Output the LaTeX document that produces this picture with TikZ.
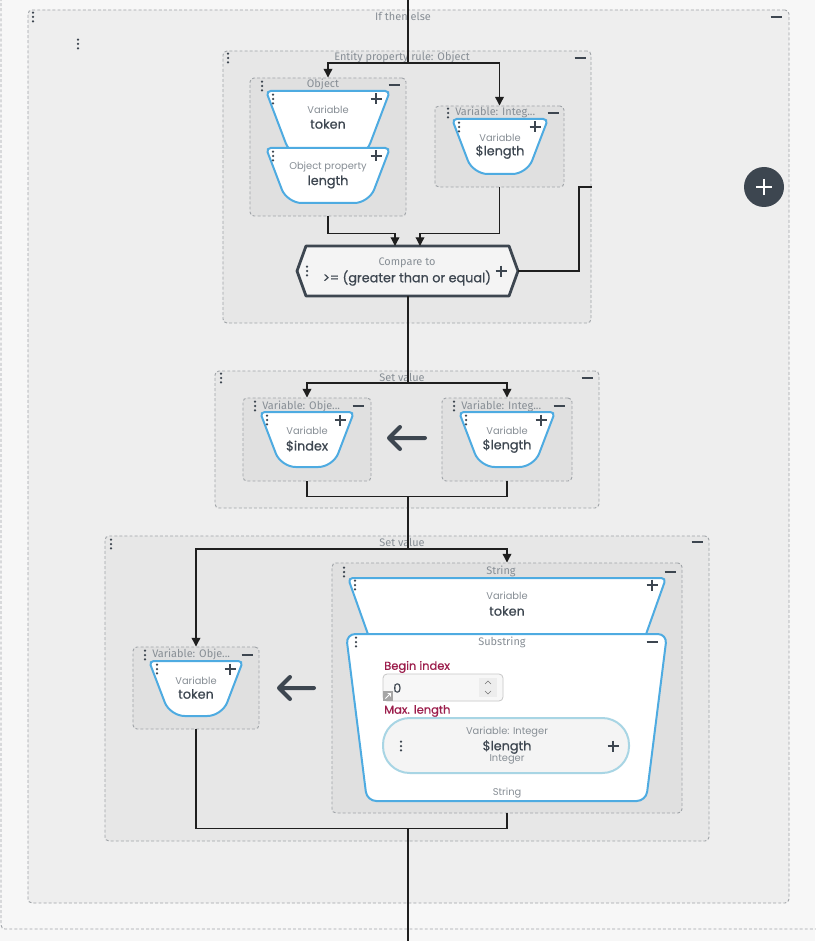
\documentclass[tikz,border=0pt]{standalone}
\usepackage{fontspec}
\setmainfont{Poppins}
\newfontfamily\hdrfont{Fira Sans}
\newfontfamily\valfont[FakeBold=0.7]{Poppins}
\usetikzlibrary{arrows.meta,fit}
\definecolor{bgc}{HTML}{F7F7F7}
\definecolor{ifc}{HTML}{EEEEEE}
\definecolor{boxa}{HTML}{E7E7E7}
\definecolor{boxb}{HTML}{E0E0E0}
\definecolor{dashc}{HTML}{A0A4A8}
\definecolor{dark}{HTML}{3D4650}
\definecolor{greyt}{HTML}{878E95}
\definecolor{bluec}{HTML}{4EABE1}
\definecolor{crim}{HTML}{9C1E4C}
\definecolor{pillb}{HTML}{A8D5E4}
\definecolor{cmpf}{HTML}{F4F4F4}
\tikzset{
  dbox/.style={draw=dashc, dash pattern=on 2.2pt off 1.6pt, line width=0.7pt, rounded corners=3pt, inner sep=0pt},
  conn/.style={draw=black!88, line width=0.95pt},
  arr/.style={conn, -{Triangle[length=6.5pt,width=6.5pt]}},
  hdr/.style={font=\hdrfont\fontsize{8.2}{9}\selectfont, text=greyt, inner sep=0pt},
  lbl/.style={font=\fontsize{7.4}{8}\selectfont, text=greyt, inner sep=0pt},
  val/.style={font=\valfont\fontsize{9.6}{10}\selectfont, text=dark, inner sep=0pt},
  crl/.style={font=\valfont\fontsize{8.6}{9}\selectfont, text=crim, inner sep=0pt, anchor=west},
  kdots/.pic={\fill[dark] (0,-4.3) circle[radius=1.25] (0,0) circle[radius=1.25] (0,4.3) circle[radius=1.25];},
  kplus/.pic={\draw[dark, line width=1.3pt] (-5.5,0) -- (5.5,0) (0,-5.5) -- (0,5.5);},
  kminus/.pic={\draw[dark, line width=1.6pt] (-5.5,0) -- (5.5,0);},
  trap/.style={draw=bluec, line width=1.5pt, fill=white},
}
% cx, top, halftop, height, inset
\newcommand\ktrap[5]{%
  \path[trap] ({#1-#3+#5/2},{#2+#4/2}) [rounded corners=3.5pt] -- ({#1-#3},{#2}) -- ({#1+#3},{#2}) -- ({#1+#3-#5/2},{#2+#4/2})
   [rounded corners=11pt] -- ({#1+#3-#5},{#2+#4}) -- ({#1-#3+#5},{#2+#4}) -- cycle;}
\begin{document}
\begin{tikzpicture}[x=0.75pt,y=-0.75pt]
\useasboundingbox (0,0) rectangle (815,941);
\fill[bgc] (0,0) rectangle (815,941);
% outer
\node[dbox, fit={(1,-20)(840,929)}] (outer) {};
% if then else
\node[dbox, fill=ifc, fit={(28,10)(789,903)}] (ite) {};
\node[hdr] (itet) at (403,16) {If then else};
\pic at (33,17) {kdots}; \pic at (78,44) {kdots}; \pic at (776,17) {kminus};
% add button
\node[circle, fill=dark, minimum size=30pt, inner sep=0pt] (addb) at (764,187) {};
\draw[white, line width=2.2pt] (756,187) -- (772,187) (764,179) -- (764,195);

% entity property rule
\node[dbox, fill=boxa, fit={(223,51)(591,323)}] (epr) {};
\node[hdr] (eprt) at (402,57) {Entity property rule: Object};
\pic at (228,58) {kdots}; \pic at (580,58) {kminus};
% object box
\node[dbox, fill=boxb, fit={(250,78)(406,216)}] (obj) {};
\node[hdr] (objt) at (323,84) {Object};
\pic at (262,86) {kdots}; \pic at (394,85) {kminus};
\ktrap{328}{91}{62}{66}{25}
\node[lbl] (t1a) at (328,110) {Variable};
\node[val] (t1b) at (328,124) {token};
\pic at (376,99) {kplus}; \pic at (273,99) {kdots};
\ktrap{328}{148}{62}{55}{21}
\node[lbl] (t2a) at (328,167) {Object property};
\node[val] (t2b) at (328,182) {length};
\pic at (376,156) {kplus}; \pic at (273,156) {kdots};
% variable integ 1
\node[dbox, fill=boxb, fit={(435,106)(564,187)}] (vint1) {};
\node[hdr, anchor=west] (vint1t) at (455,112) {Variable: Integ...};
\pic at (448,113) {kdots}; \pic at (553,113) {kminus};
\ktrap{500}{119}{48}{55}{21}
\node[lbl] (t3a) at (500,138) {Variable};
\node[val] (t3b) at (500,152) {\$length};
\pic at (535,127) {kplus}; \pic at (459,127) {kdots};
% compare
\node[fit={(306,246)(509,296)}, inner sep=0pt] (cmp) {};
\draw[dark, line width=2.1pt, fill=cmpf, line join=round] (297,271) -- (306,246) -- (509,246) -- (518,271) -- (509,296) -- (306,296) -- cycle;
\node[hdr] (cmpa) at (407,263) {Compare to};
\node[val] (cmpb) at (407,278) {>= (greater than or equal)};
\pic at (501,271) {kplus}; \pic at (307,271) {kdots};

% set value 1
\node[dbox, fill=boxa, fit={(215,371)(599,508)}] (sv1) {};
\node[hdr] (sv1t) at (402,377) {Set value};
\pic at (221,378) {kdots}; \pic at (587,378) {kminus};
\node[dbox, fill=boxb, fit={(243,398)(371,481)}] (vob1) {};
\node[hdr, anchor=west] (vob1t) at (262,406) {Variable: Obje...};
\pic at (255,406) {kdots}; \pic at (358,406) {kminus};
\ktrap{307}{412}{47}{55}{21}
\node[lbl] (t4a) at (307,431) {Variable};
\node[val] (t4b) at (307,446) {\$index};
\pic at (340,420) {kplus}; \pic at (267,420) {kdots};
\node[dbox, fill=boxb, fit={(442,398)(572,481)}] (vint2) {};
\node[hdr, anchor=west] (vint2t) at (461,406) {Variable: Integ...};
\pic at (454,406) {kdots}; \pic at (559,406) {kminus};
\ktrap{507}{412}{48}{55}{21}
\node[lbl] (t5a) at (507,431) {Variable};
\node[val] (t5b) at (507,446) {\$length};
\pic at (541,420) {kplus}; \pic at (466,420) {kdots};
\draw[dark, line width=3pt, line cap=round, line join=round] (425,438) -- (389,438) (400,427) -- (389,438) -- (400,449);

% set value 2
\node[dbox, fill=boxa, fit={(105,536)(709,841)}] (sv2) {};
\node[hdr] (sv2t) at (402,542) {Set value};
\pic at (111,544) {kdots}; \pic at (697,542) {kminus};
\node[dbox, fill=boxb, fit={(332,563)(682,813)}] (str) {};
\node[hdr] (strt) at (501,571) {String};
\pic at (344,572) {kdots}; \pic at (670,572) {kminus};
\ktrap{507}{578}{159}{76}{27}
\node[lbl] (t6a) at (507,596) {Variable};
\node[val] (t6b) at (507,611) {token};
\pic at (652,585) {kplus}; \pic at (355,585) {kdots};
\path[trap, rounded corners=7pt] (346,634) -- (667,634) -- (646,801) -- (367,801) -- cycle;
\node[hdr] (subt) at (502,642) {Substring};
\pic at (356,642) {kdots}; \pic at (652,642) {kminus};
\node[crl] (bi) at (384,667) {Begin index};
\node[draw=black!22, fill=white!97!black, rounded corners=3pt, line width=0.6pt, fit={(383,674)(503,701)}, inner sep=0pt] (inp) {};
\fill[black!7] (479,678) rectangle (497,697);
\draw[black!55, line width=0.5pt] (485,684) -- (488,681) -- (491,684) (485,691) -- (488,694) -- (491,691);
\fill[black!35] (383,691) rectangle (393,701);
\draw[white, line width=0.7pt] (385.5,698.5) -- (390.5,693.5) (387.5,693.5) -- (390.5,693.5) -- (390.5,696.5);
\node[val, anchor=west] (zero) at (393,688) {0};
\node[crl] (ml) at (384,711) {Max. length};
\node[draw=pillb, fill=cmpf, line width=1.5pt, rounded corners=20pt, fit={(383,718)(629,773)}, inner sep=0pt] (pill) {};
\node[lbl] (p1) at (507,732) {Variable: Integer};
\node[val] (p2) at (507,747) {\$length};
\node[lbl] (p3) at (507,759) {Integer};
\pic at (401,746) {kdots}; \pic at (613,746) {kplus};
\node[lbl] (strb) at (507,793) {String};
% variable obje 2
\node[dbox, fill=boxb, fit={(133,647)(259,729)}] (vob2) {};
\node[hdr, anchor=west] (vob2t) at (152,654) {Variable: Obje...};
\pic at (145,655) {kdots}; \pic at (247,655) {kminus};
\ktrap{196}{661}{47}{55}{21}
\node[lbl] (t7a) at (196,681) {Variable};
\node[val] (t7b) at (196,694) {token};
\pic at (230,669) {kplus}; \pic at (157,669) {kdots};
\draw[dark, line width=3pt, line cap=round, line join=round] (314,688) -- (279,688) (290,677) -- (279,688) -- (290,699);

% connectors
\coordinate (in) at (408,-2);
\coordinate (j1) at (408,63);
\coordinate (cin1) at (395,246);
\coordinate (cin2) at (420,246);
\coordinate (cmpR) at (518,271);
\coordinate (cmpB) at (408,296);
\coordinate (elseE) at (592,187);
\coordinate (j2) at (408,383);
\coordinate (j3) at (408,496);
\coordinate (j4) at (408,549);
\coordinate (j5) at (408,828);
\coordinate (out) at (408,943);
\draw[conn] (in) -- (j1);
\draw[arr] (j1) -| (obj.north);
\draw[arr] (j1) -| (vint1.north);
\draw[arr] (obj.south) -- ++(0,17) -| (cin1);
\draw[arr] (vint1.south) -- ++(0,46) -| (cin2);
\draw[conn] (cmpR) -- ++(61,0) |- (elseE);
\draw[conn] (cmpB) -- (j2);
\draw[arr] (j2) -| (vob1.north);
\draw[arr] (j2) -| (vint2.north);
\draw[conn] (vob1.south) -- ++(0,15) -| (vint2.south);
\draw[conn] (j3) -- (j4);
\draw[arr] (j4) -| (vob2.north);
\draw[arr] (j4) -| (str.north);
\draw[conn] (vob2.south) -- ++(0,99) -| (str.south);
\draw[conn] (j5) -- (out);
\end{tikzpicture}
\end{document}
